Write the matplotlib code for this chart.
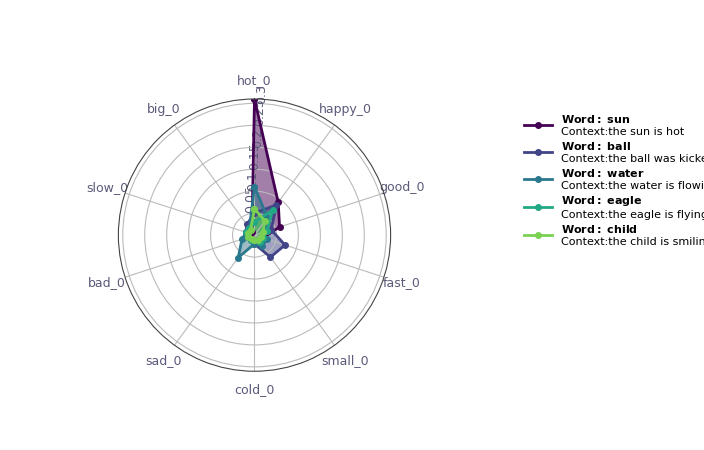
import matplotlib.pyplot as plt
import numpy as np

plt.rcParams["mathtext.fontset"] = "dejavusans"

axes_labels = ["hot_0", "happy_0", "good_0", "fast_0", "small_0",
               "cold_0", "sad_0", "bad_0", "slow_0", "big_0"]
words = ["sun", "ball", "water", "eagle", "child"]
contexts = ["the sun is hot", "the ball was kicked", "the water is flowing",
            "the eagle is flying", "the child is smiling"]
sun = [0.31, 0.092, 0.06, 0.02, 0.02, 0.01, 0.01, 0.01, 0.01, 0.01]
ball = [0.05, 0.085, 0.04, 0.073, 0.062, 0.02, 0.015, 0.015, 0.02, 0.03]
water = [0.11, 0.05, 0.02, 0.03, 0.03, 0.02, 0.063, 0.03, 0.02, 0.02]
eagle = [0.03, 0.07, 0.03, 0.02, 0.02, 0.01, 0.015, 0.015, 0.02, 0.02]
child = [0.06, 0.04, 0.02, 0.015, 0.015, 0.01, 0.01, 0.015, 0.015, 0.015]
series = [sun, ball, water, eagle, child]
colors = ["#440154", "#414487", "#2a788e", "#22a884", "#7ad151"]

n = len(axes_labels)
theta = np.arange(n + 1) * 2 * np.pi / n

fig = plt.figure(figsize=(7.04, 4.5), dpi=100)
ax = fig.add_axes([0.168, 0.175, 0.387, 0.605], projection="polar")
ax.set_theta_zero_location("N")
ax.set_theta_direction(-1)
for vals, c, w, ctx in zip(series, colors, words, contexts):
    v = vals + vals[:1]
    ax.fill(theta, v, color=c, alpha=0.5, lw=0)
    ax.plot(theta, v, color=c, lw=2, marker="o", ms=4,
            label=r"$\mathbf{Word{:}\ " + w + "}$" + "\nContext:" + ctx)
ax.set_ylim(0, 0.31)
ax.set_xticks(theta[:-1])
ax.set_xticklabels(axes_labels, color="#5a5a7a", fontsize=9)
ax.set_yticks([0.05, 0.1, 0.15, 0.2, 0.25, 0.3])
ax.set_yticklabels(["0.05", "0.1", "0.15", "0.2", "0.25", "0.3"],
                   fontsize=9, color="#5a5a7a")
ax.tick_params(axis="y", labelrotation=90)
ax.set_rlabel_position(6)
ax.grid(color="#bbbbbb", lw=0.8)
ax.spines["polar"].set_color("#444444")
ax.tick_params(axis="x", pad=3)
fig.legend(loc="upper left", bbox_to_anchor=(0.73, 0.77), frameon=False,
           fontsize=8, handlelength=2.5, labelspacing=0.3)
fig.savefig("out.png")
